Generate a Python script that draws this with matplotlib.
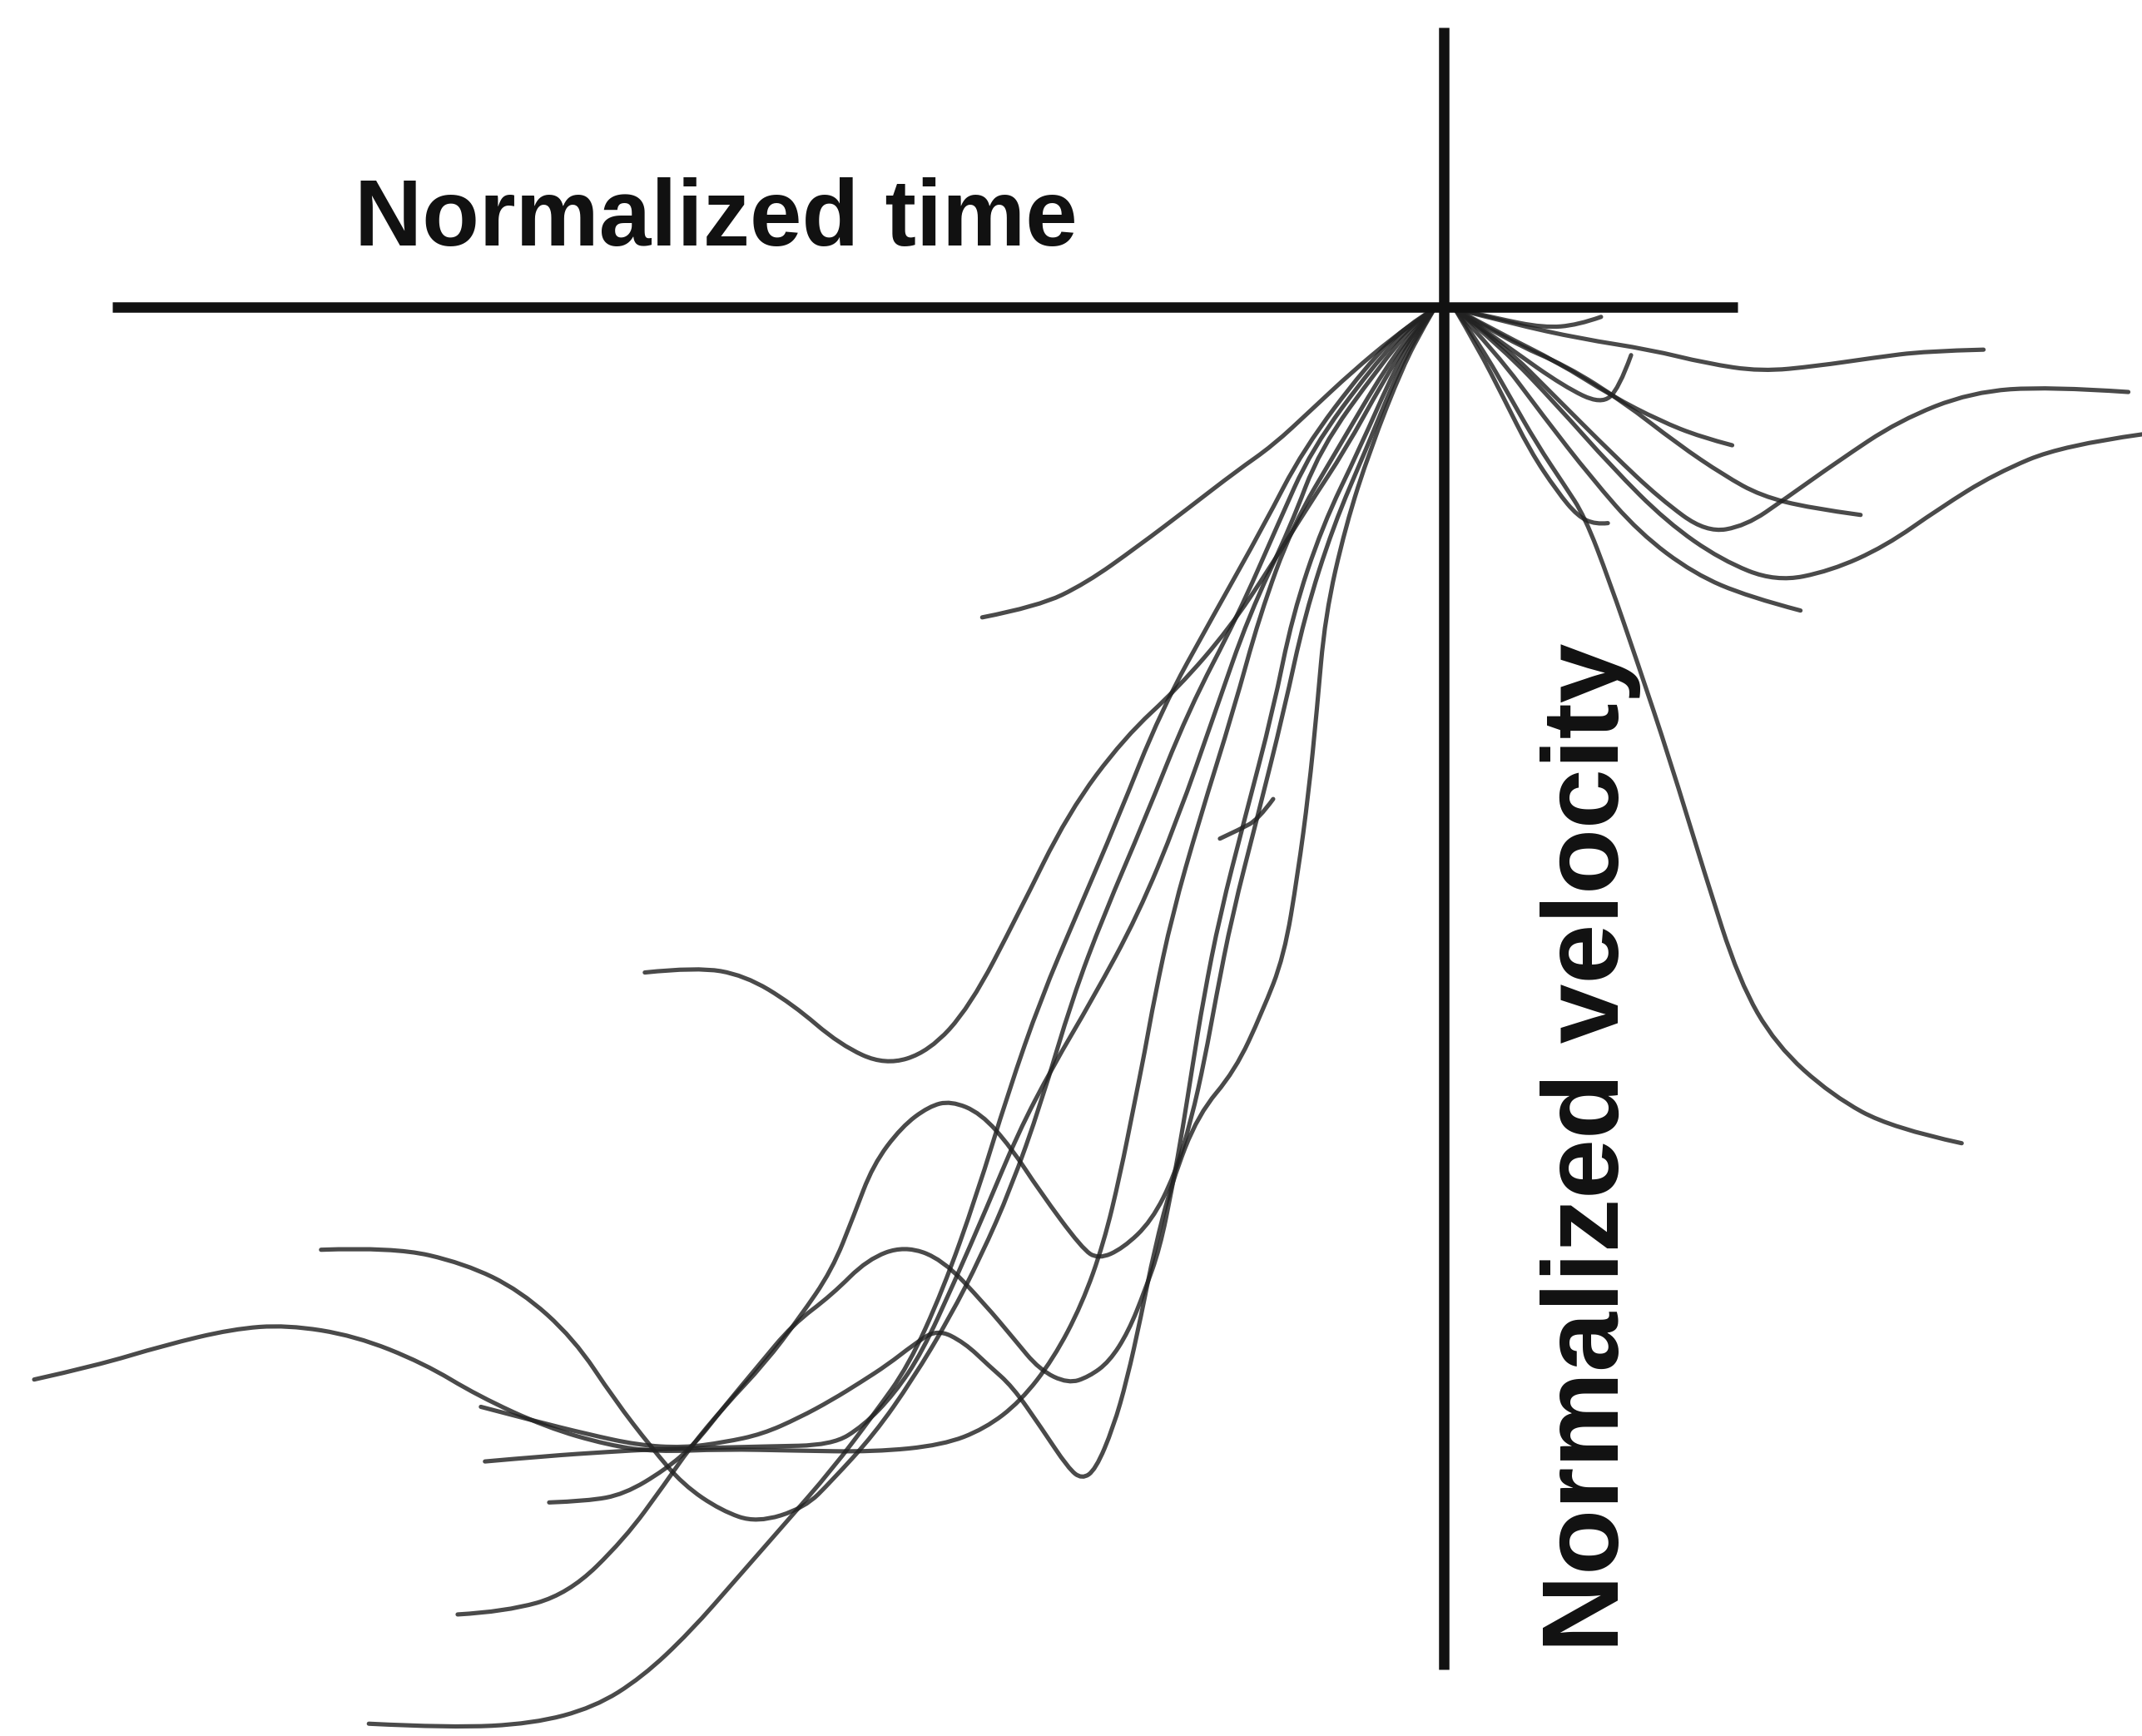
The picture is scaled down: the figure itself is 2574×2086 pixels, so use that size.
import matplotlib
matplotlib.use("Agg")
import matplotlib.pyplot as plt
from matplotlib.path import Path
from matplotlib.patches import PathPatch

# ---- data (chart units: horizontal = time, vertical = velocity, origin at the axes crossing) ----
axis_time_x = [82, 1272]
axis_time_y = [225, 225]
axis_vel_x = [1057, 1057]
axis_vel_y = [20, 1222]

# left-hand traces (time, velocity)
trace_a_t = [719, 760, 795, 833, 870, 905, 932, 960, 990, 1020, 1040, 1050]
trace_a_v = [452, 444, 427, 400, 372, 345, 326, 300, 272, 247, 233, 226]

trace_b_t = [472, 510, 545, 580, 615, 648, 680, 710, 745, 782, 823, 863, 900, 930, 958, 985, 1012, 1035, 1050]
trace_b_v = [712, 708, 714, 735, 765, 780, 770, 737, 670, 595, 540, 503, 460, 415, 370, 329, 280, 243, 226]

trace_c_t = [25, 70, 120, 170, 210, 260, 310, 350, 400, 445, 480, 530, 580, 640, 690, 721, 747, 771, 792, 808,
             820, 830, 838, 845, 858, 878, 903, 922, 946, 979, 1015, 1038, 1050]
trace_c_v = [1010, 1000, 985, 973, 970, 978, 998, 1022, 1045, 1058, 1063, 1061, 1062, 1063, 1058, 1046, 1026, 995, 955, 910,
             860, 810, 770, 731, 670, 600, 520, 451, 385, 329, 268, 238, 226]

trace_d_t = [235, 288, 340, 381, 420, 450, 477, 500, 528, 554, 589, 609, 640, 668, 695, 718, 740, 762, 785, 808,
             838, 870, 906, 935, 960, 1005, 1033, 1050]
trace_d_v = [915, 913, 925, 945, 980, 1025, 1060, 1087, 1106, 1115, 1104, 1084, 1050, 1010, 965, 920, 870, 808, 731, 670,
             600, 520, 451, 385, 329, 268, 238, 226]

trace_e_t = [352, 390, 430, 467, 500, 530, 558, 585, 609, 630, 650, 668, 686, 706, 724, 741, 762, 782, 792, 802,
             815, 825, 835, 845, 858, 877, 904, 924, 940, 950, 958, 964, 970, 985, 1003, 1027, 1043, 1050]
trace_e_v = [1030, 1040, 1050, 1058, 1060, 1056, 1050, 1038, 1025, 1012, 999, 985, 973, 983, 1000, 1015, 1045, 1075, 1083, 1076,
             1045, 1010, 965, 915, 865, 816, 784, 741, 700, 640, 580, 520, 451, 385, 329, 268, 238, 226]

trace_f_t = [270, 330, 390, 435, 470, 505, 540, 575, 609, 640, 665, 690, 715, 738, 762, 788, 818, 850, 888, 925,
             954, 1000, 1030, 1050]
trace_f_v = [1262, 1265, 1262, 1250, 1228, 1195, 1155, 1115, 1076, 1035, 1000, 945, 875, 800, 731, 670, 600, 520, 451, 385,
             329, 268, 238, 226]

trace_g_t = [355, 400, 445, 480, 520, 560, 609, 632, 655, 675, 698, 722, 745, 770, 800, 833, 862, 890, 914, 945,
             966, 1010, 1035, 1050]
trace_g_v = [1070, 1066, 1063, 1061, 1060, 1059, 1058, 1044, 1020, 990, 940, 885, 830, 782, 731, 670, 600, 520, 451, 385,
             329, 268, 238, 226]

trace_h_t = [402, 430, 457, 487, 508, 530, 555, 580, 609, 635, 662, 690, 721, 742, 761, 782, 797, 812, 826, 838,
             849, 858, 866, 873, 881, 893, 911, 932, 946, 968, 995, 1022, 1040, 1050]
trace_h_v = [1100, 1099, 1094, 1076, 1058, 1030, 1000, 970, 948, 922, 912, 922, 955, 980, 1003, 1013, 1008, 997, 975, 945,
             914, 870, 825, 780, 731, 670, 600, 520, 451, 385, 329, 268, 238, 226]

trace_i_t = [335, 370, 416, 457, 487, 505, 530, 560, 585, 609, 625, 639, 660, 680, 696, 718, 740, 761, 792, 804,
             822, 843, 860, 872, 882, 890, 902, 920, 940, 955, 976, 1000, 1025, 1042, 1050]
trace_i_v = [1182, 1180, 1167, 1127, 1086, 1060, 1030, 998, 965, 930, 890, 853, 825, 810, 806, 815, 840, 872, 914, 922,
             914, 894, 860, 820, 775, 731, 670, 600, 520, 451, 385, 329, 268, 238, 226]

trace_j_t = [893, 908, 921, 932]
trace_j_v = [614, 607, 600, 585]

# right-hand traces
trace_r0_t = [1065, 1095, 1130, 1155, 1172]
trace_r0_v = [226, 233, 240, 238, 232]
trace_r1_t = [1065, 1107, 1157, 1208, 1249, 1289, 1330, 1371, 1410, 1452]
trace_r1_v = [226, 237, 248, 256, 266, 272, 268, 262, 257, 256]
trace_r2_t = [1065, 1100, 1140, 1180, 1215, 1245, 1268]
trace_r2_v = [226, 245, 265, 290, 308, 320, 326]
trace_r2b_t = [1065, 1105, 1145, 1172, 1185, 1194]
trace_r2b_v = [226, 255, 283, 296, 285, 260]
trace_r3_t = [1065, 1105, 1147, 1188, 1228, 1262, 1289, 1325, 1362]
trace_r3_v = [226, 250, 268, 294, 325, 348, 363, 372, 377]
trace_r4_t = [1065, 1100, 1140, 1180, 1215, 1249, 1278, 1307, 1345, 1390, 1443, 1500, 1558]
trace_r4_v = [226, 252, 292, 332, 365, 390, 385, 365, 338, 308, 287, 283, 287]
trace_r5_t = [1065, 1100, 1140, 1180, 1220, 1260, 1300, 1340, 1380, 1420, 1460, 1510, 1568]
trace_r5_v = [226, 255, 297, 342, 382, 410, 426, 418, 400, 372, 347, 326, 318]
trace_r6_t = [1065, 1095, 1130, 1165, 1200, 1240, 1280, 1318]
trace_r6_v = [226, 258, 305, 350, 390, 420, 437, 447]
trace_r7_t = [1065, 1085, 1105, 1125, 1145, 1160, 1178, 1199, 1222, 1248, 1273, 1300, 1341, 1385, 1436]
trace_r7_v = [226, 255, 290, 325, 355, 378, 425, 486, 555, 640, 718, 765, 802, 826, 837]
trace_r8_t = [1065, 1082, 1100, 1120, 1140, 1155, 1168, 1177]
trace_r8_v = [226, 255, 290, 330, 360, 378, 384, 383]

traces = [
    (trace_a_t, trace_a_v), (trace_b_t, trace_b_v), (trace_c_t, trace_c_v), (trace_d_t, trace_d_v),
    (trace_e_t, trace_e_v), (trace_f_t, trace_f_v), (trace_g_t, trace_g_v), (trace_h_t, trace_h_v),
    (trace_i_t, trace_i_v), (trace_j_t, trace_j_v),
    (trace_r0_t, trace_r0_v), (trace_r1_t, trace_r1_v), (trace_r2_t, trace_r2_v), (trace_r2b_t, trace_r2b_v),
    (trace_r3_t, trace_r3_v), (trace_r4_t, trace_r4_v), (trace_r5_t, trace_r5_v), (trace_r6_t, trace_r6_v),
    (trace_r7_t, trace_r7_v), (trace_r8_t, trace_r8_v),
]

label_time = "Normalized time"
label_velocity = "Normalized velocity"


def smooth_trace(ax, xs, ys, **kw):
    pts = list(zip(xs, ys))
    verts = [pts[0]]
    codes = [Path.MOVETO]
    if len(pts) == 2:
        verts.append(pts[1])
        codes.append(Path.LINETO)
    else:
        for i in range(1, len(pts) - 1):
            p, q = pts[i], pts[i + 1]
            end = q if i == len(pts) - 2 else ((p[0] + q[0]) / 2, (p[1] + q[1]) / 2)
            verts += [p, end]
            codes += [Path.CURVE3, Path.CURVE3]
    ax.add_patch(PathPatch(Path(verts, codes), fill=False, **kw))


fig = plt.figure(figsize=(25.74, 20.86), dpi=100)
ax = fig.add_axes([0, 0, 1, 1])
ax.set_xlim(0, 1568)
ax.set_ylim(1271, 0)
ax.axis("off")

for t, v in traces:
    smooth_trace(ax, t, v, edgecolor="#222222", linewidth=3.7, alpha=0.82,
                 capstyle="round", joinstyle="round")

ax.plot(axis_time_x, axis_time_y, color="#111111", linewidth=9.0, solid_capstyle="butt")
ax.plot(axis_vel_x, axis_vel_y, color="#111111", linewidth=9.0, solid_capstyle="butt")

ax.text(524, 180, label_time, ha="center", va="baseline", fontsize=81,
        fontweight="bold", family="Liberation Sans", color="#111111")
ax.text(1185, 840, label_velocity, ha="center", va="baseline", rotation=90,
        rotation_mode="anchor", fontsize=93, fontweight="bold",
        family="Liberation Sans", color="#111111")

fig.savefig("out.png", dpi=100, facecolor="white")
